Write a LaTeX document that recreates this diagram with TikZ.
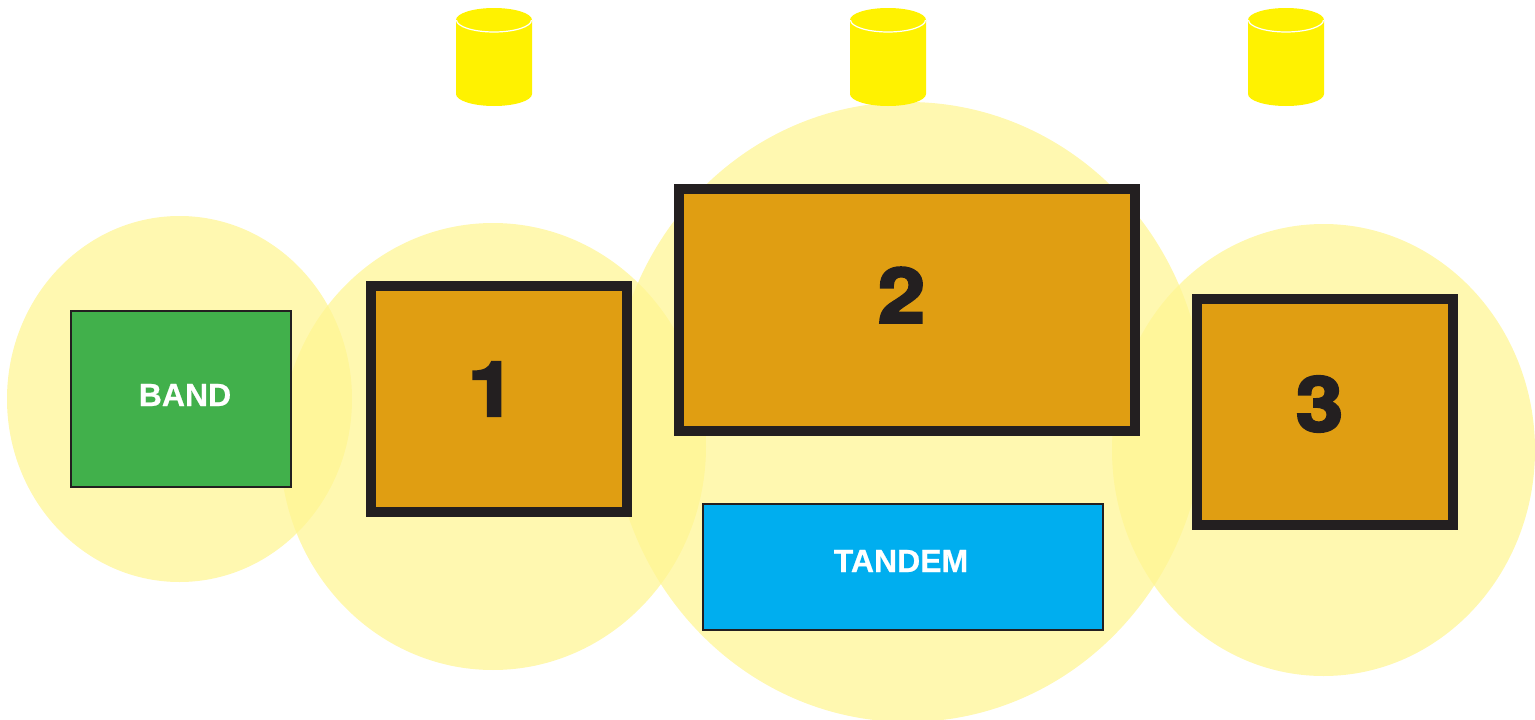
\documentclass[tikz,border=0pt]{standalone}
\usepackage{fontspec}
\setmainfont{Liberation Sans}
\newfontfamily\heavyfont[FakeBold=3.4,FakeStretch=1.12]{TeX Gyre Heros Bold}
\newfontfamily\midfont[FakeBold=0.6]{Liberation Sans Bold}
\definecolor{glow}{RGB}{255,245,145}
\definecolor{lamp}{RGB}{255,242,0}
\definecolor{stage}{RGB}{224,158,18}
\definecolor{ink}{RGB}{35,31,32}
\definecolor{bandgreen}{RGB}{65,176,75}
\definecolor{tandemblue}{RGB}{0,174,239}
\tikzset{
  x=1pt,y=-1pt,
  pool/.style={ellipse,fill=glow,fill opacity=.72,inner sep=0pt,outer sep=0pt},
  riser/.style={rectangle,draw=ink,line width=10pt,fill=stage,inner sep=0pt,outer sep=0pt},
  thinbox/.style={rectangle,draw=ink,line width=2.2pt,inner sep=0pt,outer sep=0pt},
  bignum/.style={text=ink,inner sep=0pt,font=\heavyfont\fontsize{76}{76}\selectfont},
  boxlabel/.style={text=white,inner sep=0pt,font=\midfont\fontsize{32}{32}\selectfont},
  pics/spot/.style={code={
    \fill[lamp] (-38,-37) -- (-38,37) arc[x radius=38,y radius=12,start angle=180,end angle=0]
      -- (38,-37) arc[x radius=38,y radius=12,start angle=0,end angle=-180] -- cycle;
    \draw[white,line width=1.2pt] (-37.5,-37) arc[x radius=37.5,y radius=12,start angle=180,end angle=0];
  }}
}
\usetikzlibrary{shapes.geometric}
\begin{document}
\begin{tikzpicture}
\useasboundingbox (0,0) rectangle (1535,720);
\clip (0,0) rectangle (1535,720);
\node[pool,minimum width=345pt,minimum height=366pt] (poolband) at (179.5,399) {};
\node[pool,minimum width=426pt,minimum height=447pt] (poolone) at (493,446.5) {};
\node[pool,minimum width=594pt,minimum height=620pt] (pooltwo) at (908,412) {};
\node[pool,minimum width=423pt,minimum height=452pt] (poolthree) at (1323.5,450) {};
\pic (spotone) at (494,57) {spot};
\pic (spottwo) at (888,57) {spot};
\pic (spotthree) at (1286,57) {spot};
\node[riser,minimum width=256pt,minimum height=226pt] (one) at (499,399) {};
\node[riser,minimum width=456pt,minimum height=242pt] (two) at (907,310) {};
\node[riser,minimum width=256pt,minimum height=226pt] (three) at (1325,412) {};
\node[thinbox,fill=bandgreen,minimum width=219.5pt,minimum height=175.5pt] (band) at (181,399) {};
\node[thinbox,fill=tandemblue,minimum width=399.5pt,minimum height=125.5pt] (tandem) at (903,567) {};
\node[bignum] (numone) at (491.5,389) {1};
\node[bignum] (numtwo) at (901.5,295) {2};
\node[bignum] (numthree) at (1319.5,404) {3};
\node[boxlabel] (bandtext) at (185,395) {BAND};
\node[boxlabel] (tandemtext) at (901,561) {TANDEM};
\end{tikzpicture}
\end{document}
